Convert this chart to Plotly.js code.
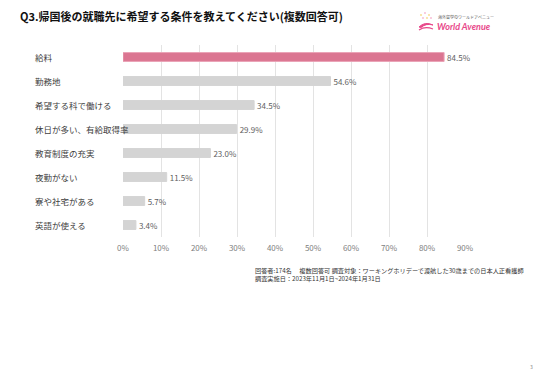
<!DOCTYPE html>
<html>
<head>
<meta charset="utf-8">
<script src="https://cdn.plot.ly/plotly-3.0.1.min.js"></script>
<style>html,body{margin:0;padding:0;background:#fff;}#chart{width:536px;height:371px;}</style>
</head>
<body>
<div id="chart"></div>
<script>
const categories = ["給料","勤務地","希望する科で働ける","休日が多い、有給取得率","教育制度の充実","夜勤がない","寮や社宅がある","英語が使える"];
const values = [84.5, 54.6, 34.5, 29.9, 23.0, 11.5, 5.7, 3.4];
const tickValues = [0,10,20,30,40,50,60,70,80,90];
const tickLabels = ["0%","10%","20%","30%","40%","50%","60%","70%","80%","90%"];
const titleText = "Q3.帰国後の就職先に希望する条件を教えてください(複数回答可)";
const noteLines = ["回答者:174名　 複数回答可 調査対象：ワーキングホリデーで渡航した30歳までの日本人正看護師","調査実施日：2023年11月1日~2024年1月31日"];

const FONT = "'Noto Sans CJK JP', 'Noto Sans', sans-serif";
const W = 536, H = 371;
const L = 123, R = 71, T = 45, B = 134;
const pw = W - L - R, ph = H - T - B;
const px = x => (x - L) / pw;
const py = y => (H - B - y) / ph;

const barColors = categories.map((c, i) => i === 0 ? "#db7591" : "#d4d4d4");
const lineColors = categories.map((c, i) => i === 0 ? "#eaa3b6" : "#d4d4d4");

const trace = {
  type: "bar",
  orientation: "h",
  x: values,
  y: categories,
  marker: {color: barColors, line: {color: lineColors, width: 1}},
  text: values.map(v => v.toFixed(1) + "%"),
  textposition: "outside",
  constraintext: "none",
  textfont: {family: FONT, size: 8, color: "#606060"},
  outsidetextfont: {family: FONT, size: 8, color: "#606060"},
  cliponaxis: false,
  hoverinfo: "none"
};

const annotations = categories.map(c => ({
  xref: "paper", yref: "y", x: px(33), y: c, xanchor: "left", yanchor: "middle",
  text: c, showarrow: false, font: {family: FONT, size: 8.5, color: "#404040"}
}));

annotations.push({
  xref: "paper", yref: "paper", x: px(253), y: py(264), xanchor: "left", yanchor: "top",
  text: noteLines.join("<br>"), align: "left", showarrow: false,
  font: {family: FONT, size: 6.2, color: "#333333"}
});
annotations.push({
  xref: "paper", yref: "paper", x: px(531), y: py(366), xanchor: "center", yanchor: "middle",
  text: "3", showarrow: false, font: {family: FONT, size: 5, color: "#888888"}
});
// logo
annotations.push({
  xref: "paper", yref: "paper", x: px(436), y: py(17), xanchor: "left", yanchor: "middle",
  text: "海外留学のワールドアベニュー", showarrow: false, font: {family: FONT, size: 4, color: "#555555"}
});
annotations.push({
  xref: "paper", yref: "paper", x: px(435), y: py(26.5), xanchor: "left", yanchor: "middle",
  text: "<b><i>World Avenue</i></b>", showarrow: false, font: {family: "Lato, 'DejaVu Sans', sans-serif", size: 9, color: "#e8488a"}
});

const shapes = [
  {type: "path", xref: "paper", yref: "paper",
   path: `M ${px(419)} ${py(27)} Q ${px(425)} ${py(21)} ${px(433)} ${py(25)} Q ${px(426)} ${py(23)} ${px(421)} ${py(27.5)} Z`,
   fillcolor: "#e8488a", line: {color: "#e8488a", width: 1}},
  {type: "path", xref: "paper", yref: "paper",
   path: `M ${px(419)} ${py(30)} Q ${px(425)} ${py(26)} ${px(433)} ${py(29)}`,
   line: {color: "#e8488a", width: 1.2}},
];
const dots = [[421,15,"#f4c542"],[425,13,"#f08bb5"],[429,15,"#f4c542"],[423,18,"#f08bb5"],[427,18,"#f4c542"],[431,18,"#f08bb5"]];
dots.forEach(d => shapes.push({type: "circle", xref: "paper", yref: "paper",
  x0: px(d[0]-0.8), x1: px(d[0]+0.8), y0: py(d[1]+0.8), y1: py(d[1]-0.8),
  fillcolor: d[2], line: {width: 0}}));

const layout = {
  width: W, height: H,
  margin: {l: L, r: R, t: T, b: B, pad: 0},
  paper_bgcolor: "#ffffff", plot_bgcolor: "#ffffff",
  showlegend: false,
  bargap: 0.63,
  title: {text: "<b>" + titleText + "</b>", x: 20 / W, xanchor: "left", y: 1 - 17 / H, yanchor: "middle",
          font: {family: FONT, size: 11, color: "#111111"}},
  xaxis: {
    range: [0, 90], tickvals: tickValues, ticktext: tickLabels,
    showgrid: true, gridcolor: "#e3e3e3", gridwidth: 1,
    zeroline: false, showline: false, ticks: "", fixedrange: true,
    ticklabelstandoff: 5,
    tickfont: {family: FONT, size: 8, color: "#808080"}
  },
  yaxis: {
    type: "category", categoryorder: "array", categoryarray: categories,
    autorange: "reversed", showticklabels: false, showgrid: false,
    zeroline: false, showline: false, ticks: "", fixedrange: true
  },
  annotations: annotations,
  shapes: shapes
};

Plotly.newPlot("chart", [trace], layout, {staticPlot: true, displayModeBar: false});
</script>
</body>
</html>
